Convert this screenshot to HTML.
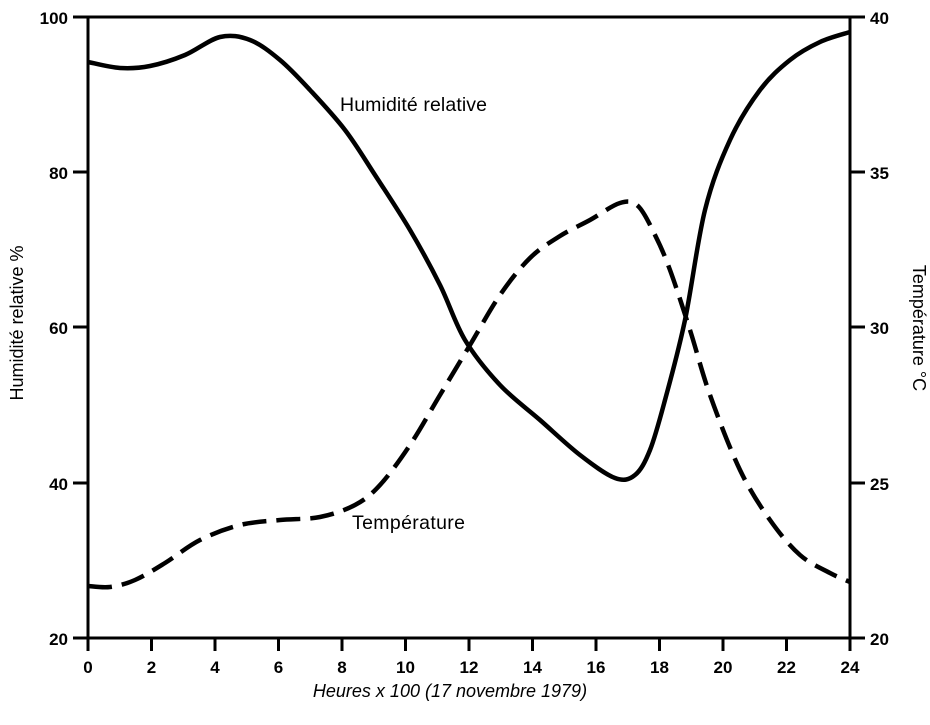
<!DOCTYPE html>
<html><head><meta charset="utf-8"><style>
body{margin:0;background:#fff;width:930px;height:720px;overflow:hidden}
svg text{font-family:"Liberation Sans",sans-serif;fill:#000}
</style></head><body>
<svg id="s" width="930" height="720" viewBox="0 0 930 720">
<g stroke="#000" stroke-width="3" fill="none">
<line x1="88" y1="17" x2="88" y2="645"/>
<line x1="850" y1="17" x2="850" y2="645"/>
<line x1="73" y1="638" x2="865" y2="638"/>
<line x1="73" y1="17" x2="865" y2="17"/>
<line x1="73" y1="172" x2="88" y2="172"/><line x1="73" y1="327" x2="88" y2="327"/><line x1="73" y1="483" x2="88" y2="483"/>
<line x1="850" y1="172" x2="865" y2="172"/><line x1="850" y1="327" x2="865" y2="327"/><line x1="850" y1="483" x2="865" y2="483"/>
</g>
<g id="xt" stroke="#000" stroke-width="3"></g>
<g font-size="17" font-weight="bold" text-anchor="end" font-family="Liberation Mono">
<text x="68" y="24">100</text><text x="68" y="179">80</text><text x="68" y="334">60</text><text x="68" y="490">40</text><text x="68" y="645">20</text>
</g>
<g font-size="17" font-weight="bold">
<text x="870" y="24">40</text><text x="870" y="179">35</text><text x="870" y="334">30</text><text x="870" y="490">25</text><text x="870" y="645">20</text>
</g>
<g id="xl" font-size="17" font-weight="bold" text-anchor="middle"></g>
<text x="450" y="697" font-size="18" font-style="italic" text-anchor="middle">Heures x 100 (17 novembre 1979)</text>
<text x="340" y="111" font-size="19.5" textLength="147">Humidité relative</text>
<text x="352" y="529" font-size="19.5" textLength="113">Température</text>
<text transform="translate(23,323) rotate(-90)" font-size="18" text-anchor="middle">Humidité relative %</text>
<text transform="translate(913,328) rotate(90)" font-size="18" text-anchor="middle">Température °C</text>
<path id="h" stroke="#000" stroke-width="4.5" fill="none"/>
<path id="t" stroke="#000" stroke-width="4.5" fill="none" stroke-dasharray="24,10"/>
</svg>
<script>
var ns="http://www.w3.org/2000/svg";
for(var i=0;i<=12;i++){var x=88+i*63.5;
var l=document.createElementNS(ns,"line");l.setAttribute("x1",x);l.setAttribute("x2",x);l.setAttribute("y1",638);l.setAttribute("y2",651);document.getElementById("xt").appendChild(l);
var t=document.createElementNS(ns,"text");t.setAttribute("x",x);t.setAttribute("y",673);t.textContent=i*2;document.getElementById("xl").appendChild(t);}
function cr(p){var d="M"+p[0][0]+","+p[0][1];for(var i=0;i<p.length-1;i++){var a=p[Math.max(0,i-1)],b=p[i],c=p[i+1],e=p[Math.min(p.length-1,i+2)];
d+=" C"+(b[0]+(c[0]-a[0])/6)+","+(b[1]+(c[1]-a[1])/6)+" "+(c[0]-(e[0]-b[0])/6)+","+(c[1]-(e[1]-b[1])/6)+" "+c[0]+","+c[1];}return d;}
var H=[[88,62],[120,68],[150,66],[185,55],[220,37],[250,40],[280,60],[310,90],[345,130],[375,175],[410,230],[440,285],[465,340],[500,385],[540,420],[580,455],[615,478],[635,475],[650,450],[665,400],[685,320],[705,210],[730,140],[760,90],[790,60],[820,42],[850,32]];
var T=[[88,586],[110,587],[135,580],[165,563],[200,540],[240,525],[280,520],[320,517],[355,505],[380,485],[410,445],[440,395],[470,345],[500,295],[530,258],[560,236],[590,220],[620,203],[638,206],[655,235],[670,270],[690,330],[710,395],[740,470],[770,520],[800,555],[830,573],[850,582]];
document.getElementById("h").setAttribute("d",cr(H));document.getElementById("t").setAttribute("d",cr(T));
</script>
</body></html>
